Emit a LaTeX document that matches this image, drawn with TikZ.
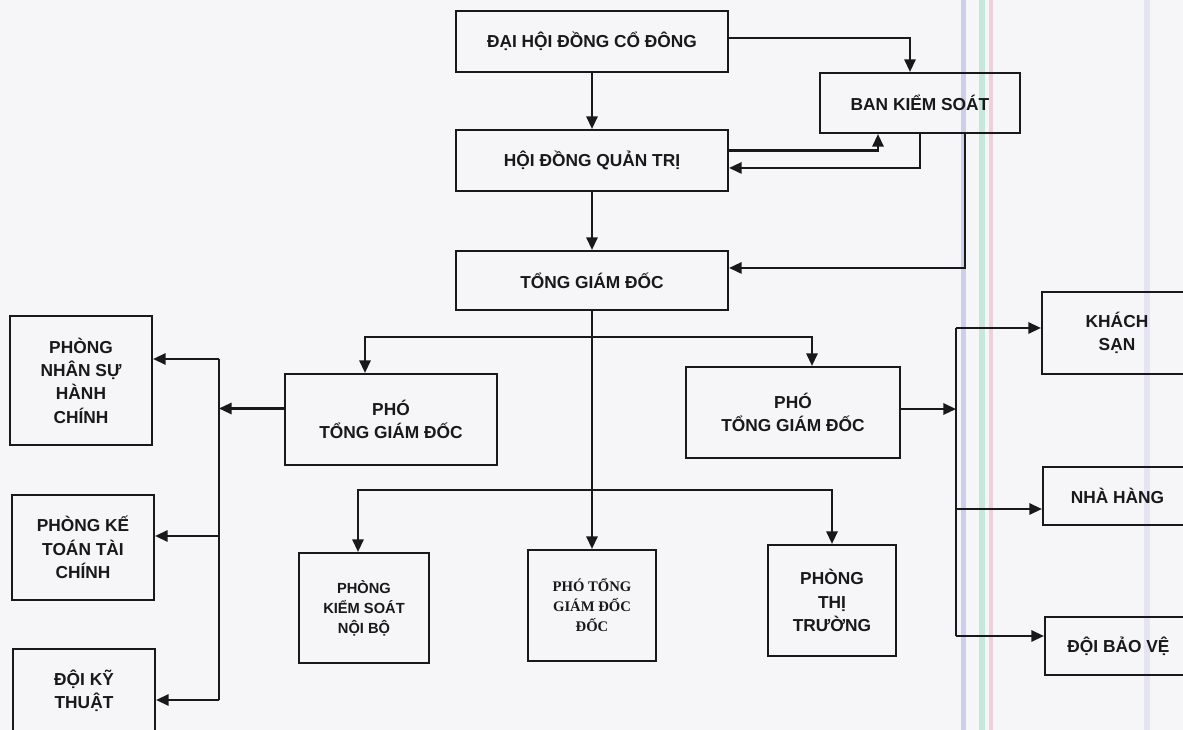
\documentclass[tikz,border=0pt]{standalone}
\usepackage{fontspec}
\setmainfont{Liberation Sans}
\newfontfamily\serifb{Liberation Serif}
\usetikzlibrary{arrows.meta,calc}
\definecolor{ink}{RGB}{25,25,28}
\definecolor{paper}{RGB}{246,246,248}
\definecolor{scanA}{RGB}{205,205,238}
\definecolor{scanB}{RGB}{196,232,218}
\definecolor{scanC}{RGB}{238,208,216}
\definecolor{scanD}{RGB}{228,228,242}
\newcommand{\orgbox}[7][]{\node[box,#1,minimum width={(#5-#3)*0.75pt},minimum height={(#6-#4)*0.75pt}] (#2) at ({(#3+#5)/2},{(#4+#6)/2}) {#7};}
\begin{document}
\begin{tikzpicture}[x=0.75pt,y=-0.75pt,
 box/.style={draw=ink,line width=1.6pt,align=center,inner sep=0pt,text=ink,font=\fontsize{13}{17.5}\selectfont\bfseries},
 small/.style={font=\fontsize{11}{15}\selectfont\bfseries},
 serb/.style={font=\fontsize{11}{15}\selectfont\serifb\bfseries},
 arr/.style={draw=ink,line width=1.6pt,-{Triangle[length=9.5pt,width=8.5pt]}},
 arr2/.style={draw=ink,line width=1.6pt,{Triangle[length=9.5pt,width=8.5pt]}-{Triangle[length=9.5pt,width=8.5pt]}},
 ln/.style={draw=ink,line width=1.6pt}]
\useasboundingbox (0,0) rectangle (1183,730);
\clip (0,0) rectangle (1183,730);
\fill[paper] (0,0) rectangle (1183,730);
% scan artefacts
\fill[scanA] (961,0) rectangle (966,730);
\fill[scanB] (979,0) rectangle (985,730);
\fill[scanC] (989,0) rectangle (993,730);
\fill[scanD] (1144,0) rectangle (1150,730);
% boxes
\orgbox{dh}{456}{11}{728}{72}{ĐẠI HỘI ĐỒNG CỔ ĐÔNG}
\orgbox{bks}{820}{73}{1020}{133}{BAN KIỂM SOÁT}
\orgbox{hd}{456}{130}{728}{191}{HỘI ĐỒNG QUẢN TRỊ}
\orgbox{tg}{456}{251}{728}{310}{TỔNG GIÁM ĐỐC}
\orgbox{pl}{285}{374}{497}{465}{PHÓ\\TỔNG GIÁM ĐỐC}
\orgbox{pr}{686}{367}{900}{458}{PHÓ\\TỔNG GIÁM ĐỐC}
\orgbox{ns}{10}{316}{152}{445}{PHÒNG\\NHÂN SỰ\\HÀNH\\CHÍNH}
\orgbox{kt}{12}{495}{154}{600}{PHÒNG KẾ\\TOÁN TÀI\\CHÍNH}
\orgbox{kth}{13}{649}{155}{733}{ĐỘI KỸ\\THUẬT}
\orgbox[small]{kn}{299}{553}{429}{663}{PHÒNG\\KIỂM SOÁT\\NỘI BỘ}
\orgbox[serb]{mid}{528}{550}{656}{661}{PHÓ TỔNG\\GIÁM ĐỐC\\ĐỐC}
\orgbox{tt}{768}{545}{896}{656}{PHÒNG\\THỊ\\TRƯỜNG}
\orgbox{ks}{1042}{292}{1192}{374}{KHÁCH\\SẠN}
\orgbox{nh}{1043}{467}{1192}{525}{NHÀ HÀNG}
\orgbox{bv}{1045}{617}{1192}{675}{ĐỘI BẢO VỆ}
% top connectors
\draw[arr] (dh.south) -- (hd.north);
\draw[arr] ([yshift=2.6pt]dh.east) -| ([xshift=-7.5pt]bks.north);
\draw[arr] ([yshift=7.5pt]hd.east) -| ([xshift=-31.5pt]bks.south);
\draw[arr] (bks.south) |- ([yshift=-5.6pt]hd.east);
\draw[arr] ([xshift=33.75pt]bks.south) |- ([yshift=9.4pt]tg.east);
\draw[arr] (hd.south) -- (tg.north);
\draw[arr] (tg.south) -- (mid.north);
\coordinate (j1) at (592,337);
\draw[arr2] ([xshift=-19.5pt]pl.north) |- (j1) -| ([xshift=14.25pt]pr.north);
\coordinate (j2) at (592,490);
\draw[arr2] ([xshift=-4.5pt]kn.north) |- (j2) -| (tt.north);
% left bus
\coordinate (lt1) at (219,359);
\coordinate (lt2) at (219,536);
\coordinate (lt3) at (219,700);
\draw[ln] (lt1) -- (lt3);
\coordinate (pw) at ([yshift=8.25pt]pl.west);
\draw[arr] (pw) -- (pw -| lt1);
\draw[arr] (lt1) -- (lt1 -| ns.east);
\draw[arr] (lt2) -- (lt2 -| kt.east);
\draw[arr] (lt3) -- (lt3 -| kth.east);
% right bus
\coordinate (rt1) at (956,328);
\coordinate (rt2) at (956,509);
\coordinate (rt3) at (956,636);
\draw[ln] (rt1) -- (rt3);
\coordinate (pe) at ([yshift=2.6pt]pr.east);
\draw[arr] (pe) -- (pe -| rt1);
\draw[arr] (rt1) -- (rt1 -| ks.west);
\draw[arr] (rt2) -- (rt2 -| nh.west);
\draw[arr] (rt3) -- (rt3 -| bv.west);
\end{tikzpicture}
\end{document}
